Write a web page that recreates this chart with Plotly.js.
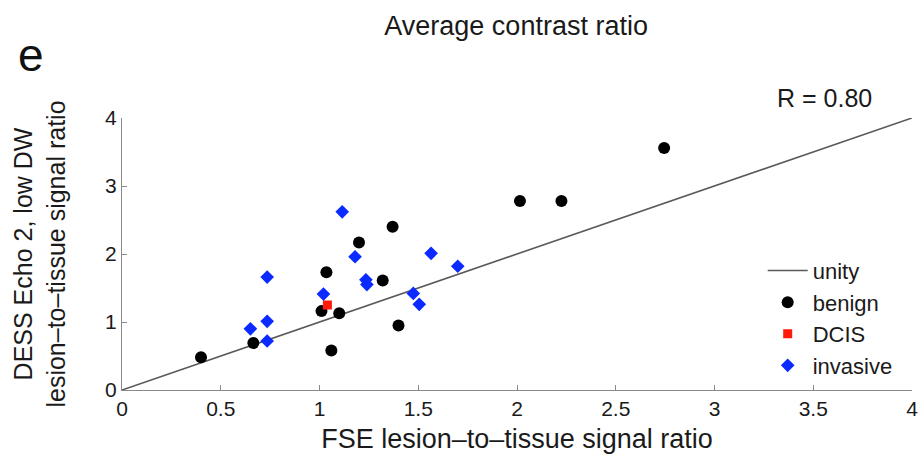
<!DOCTYPE html>
<html>
<head>
<meta charset="utf-8">
<script src="https://cdn.plot.ly/plotly-3.0.1.min.js"></script>
<style>html,body{margin:0;padding:0;background:#fff;}#chart{width:920px;height:457px;}</style>
</head>
<body>
<div id="chart"></div>
<script>
// Data
const unityX = [0, 4];
const unityY = [0, 4];

const benignX = [0.40, 0.665, 1.01, 1.035, 1.10, 1.06, 1.20, 1.32, 1.37, 1.40, 2.015, 2.225, 2.745];
const benignY = [0.48, 0.69, 1.16, 1.73, 1.13, 0.58, 2.17, 1.61, 2.40, 0.95, 2.78, 2.78, 3.56];

const dcisX = [1.04];
const dcisY = [1.25];

const invasiveX = [0.65, 0.735, 0.735, 0.735, 1.02, 1.115, 1.18, 1.235, 1.24, 1.475, 1.505, 1.565, 1.70];
const invasiveY = [0.90, 1.01, 0.72, 1.66, 1.41, 2.62, 1.96, 1.62, 1.55, 1.42, 1.26, 2.01, 1.82];

const xTicks = [0, 0.5, 1, 1.5, 2, 2.5, 3, 3.5, 4];
const xTickText = ['0', '0.5', '1', '1.5', '2', '2.5', '3', '3.5', '4'];
const yTicks = [0, 1, 2, 3, 4];
const yTickText = ['0', '1', '2', '3', '4'];

const FONT = 'Liberation Sans, Arial, Helvetica, sans-serif';
const TXT = '#1a1a1a';

const traces = [
  {x: unityX, y: unityY, mode: 'lines', name: 'unity',
   line: {color: '#595959', width: 1.6}},
  {x: benignX, y: benignY, mode: 'markers', name: 'benign',
   marker: {symbol: 'circle', size: 12, color: '#000000'}},
  {x: dcisX, y: dcisY, mode: 'markers', name: 'DCIS',
   marker: {symbol: 'square', size: 9, color: '#ff1a0a'}},
  {x: invasiveX, y: invasiveY, mode: 'markers', name: 'invasive',
   marker: {symbol: 'diamond', size: 10.5, color: '#0a2aff'}}
];

const axisCommon = {
  showgrid: false, zeroline: false, showline: true,
  linecolor: '#8a8a8a', linewidth: 1,
  ticks: 'inside', ticklen: 5, tickcolor: '#8a8a8a', tickwidth: 1,
  tickfont: {family: FONT, size: 21, color: TXT},
  fixedrange: true
};

const layout = {
  width: 920, height: 457,
  margin: {l: 122, r: 8, t: 118, b: 67},
  paper_bgcolor: '#ffffff', plot_bgcolor: '#ffffff',
  font: {family: FONT, color: TXT},
  showlegend: true,
  title: {text: 'Average contrast ratio', font: {family: FONT, size: 27, color: TXT},
          x: 0.561, xanchor: 'center', y: 0.945, yanchor: 'middle'},
  xaxis: Object.assign({}, axisCommon, {
    range: [0, 4], tickvals: xTicks, ticktext: xTickText,
    title: {text: 'FSE lesion\u2013to\u2013tissue signal ratio', font: {family: FONT, size: 27, color: TXT}, standoff: 9}
  }),
  yaxis: Object.assign({}, axisCommon, {
    range: [0, 4], tickvals: yTicks, ticktext: yTickText,
    title: {text: 'DESS Echo 2, low DW<br>lesion\u2013to\u2013tissue signal ratio', font: {family: FONT, size: 25, color: TXT}, standoff: 32}
  }),
  legend: {
    x: 0.811, xanchor: 'left', y: 0.012, yanchor: 'bottom',
    bgcolor: 'rgba(0,0,0,0)', borderwidth: 0,
    font: {family: FONT, size: 22, color: TXT},
    itemwidth: 40, tracegroupgap: 0
  },
  annotations: [
    {text: 'R = 0.80', xref: 'paper', yref: 'paper', x: 0.889, y: 1.073,
     xanchor: 'center', yanchor: 'middle', showarrow: false,
     font: {family: FONT, size: 25, color: TXT}},
    {text: 'e', xref: 'paper', yref: 'paper', x: -0.115, y: 1.23,
     xanchor: 'center', yanchor: 'middle', showarrow: false,
     font: {family: FONT, size: 46, color: '#111111'}}
  ]
};

Plotly.newPlot('chart', traces, layout, {displayModeBar: false, staticPlot: true});
</script>
</body>
</html>
